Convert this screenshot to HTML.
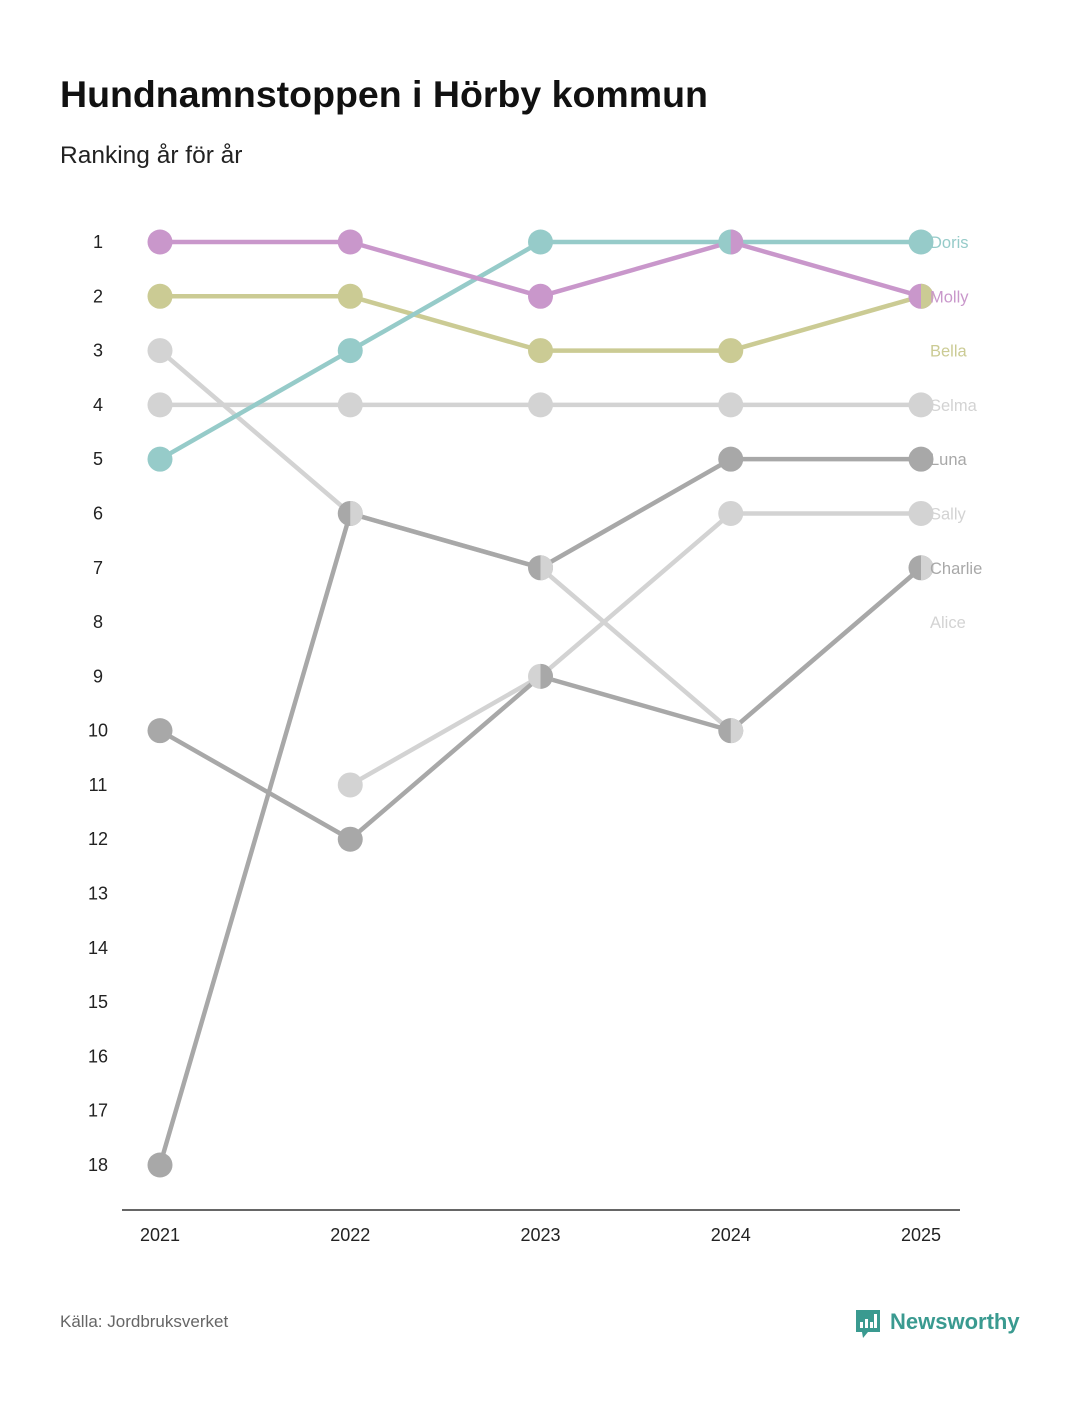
<!DOCTYPE html>
<html><head><meta charset="utf-8"><style>
body{margin:0;background:#fff;font-family:"Liberation Sans",sans-serif}
#wrap{position:relative;width:1080px;height:1400px}
</style></head><body>
<div id="wrap">
<svg id="c" width="1080" height="1400">
<text x="60" y="107" font-size="37.5" font-weight="bold" fill="#111">Hundnamnstoppen i Hörby kommun</text>
<text x="60" y="163" font-size="24.5" fill="#222">Ranking år för år</text>
<text x="60" y="1327" font-size="17" fill="#666">Källa: Jordbruksverket</text>
<g>
<path d="M856 1310h24v22h-12l-5 6l-1-6h-6z" fill="#3a9a90"/>
<rect x="860" y="1322" width="3" height="6" fill="#fff"/><rect x="865" y="1319" width="3" height="9" fill="#fff"/><rect x="870" y="1322" width="3" height="6" fill="#fff"/><rect x="874" y="1314" width="3" height="14" fill="#fff"/>
<text x="890" y="1329" font-size="22" font-weight="bold" fill="#3a9a90">Newsworthy</text>
</g>
<line x1="122" y1="1210" x2="960" y2="1210" stroke="#333" stroke-width="1.5"/>
<g id="g"></g>
</svg></div>
<script>
const years=[2021,2022,2023,2024,2025];
const rankTicks=[1,2,3,4,5,6,7,8,9,10,11,12,13,14,15,16,17,18];
const names=["Doris","Molly","Bella","Selma","Luna","Sally","Charlie","Alice"];
const colors=["#96cbc9","#c997cb","#cbcb94","#d3d3d3","#a8a8a8","#d3d3d3","#a8a8a8","#d3d3d3"];
const doris=[5,3,1,1,1];
const molly=[1,1,2,1,2];
const bella=[2,2,3,3,2];
const selma=[4,4,4,4,4];
const luna=[18,6,7,5,5];
const sally=[null,11,9,6,6];
const charlie=[10,12,9,10,7];
const alice=[3,6,7,10,7];
const labelRanks=[1,2,3,4,5,6,7,8];
const series=[doris,molly,bella,selma,luna,sally,charlie,alice];
const lineOrder=[3,5,7,4,6,2,0,1];
const x=i=>160+i*(921-160)/(years.length-1);
const y=r=>242+(r-1)*(1165-242)/17;
const g=document.getElementById('g');const NS='http://www.w3.org/2000/svg';
function mk(t,a){const e=document.createElementNS(NS,t);for(const k in a)e.setAttribute(k,a[k]);g.appendChild(e);return e;}
rankTicks.forEach(r=>{const t=mk('text',{x:98,y:y(r)+6,'font-size':18,fill:'#222','text-anchor':'middle'});t.textContent=r;

});
years.forEach((yr,i)=>{const t=mk('text',{x:x(i),y:1241,'font-size':18,fill:'#222','text-anchor':'middle'});t.textContent=yr;

});
lineOrder.forEach(k=>{const s=series[k];let d='';s.forEach((v,i)=>{if(v==null)return;d+=(d?'L':'M')+x(i)+' '+y(v);});
const p=mk('path',{d:d,fill:'none',stroke:colors[k],'stroke-width':4.5,'stroke-linejoin':'round'});

});
const used={};
series.forEach((s,k)=>{s.forEach((v,i)=>{if(v==null)return;const key=i+'_'+v;const cx=x(i),cy=y(v),r=12.5;let e;
if(used[key]){e=mk('path',{d:`M${cx} ${cy-r}A${r} ${r} 0 0 1 ${cx} ${cy+r}Z`,fill:colors[k]});}
else{e=mk('circle',{cx:cx,cy:cy,r:r,fill:colors[k]});used[key]=1;}

});});
names.forEach((n,k)=>{const t=mk('text',{x:930,y:y(labelRanks[k])+6,'font-size':16.5,fill:colors[k]});t.textContent=n;

});
</script></body></html>
